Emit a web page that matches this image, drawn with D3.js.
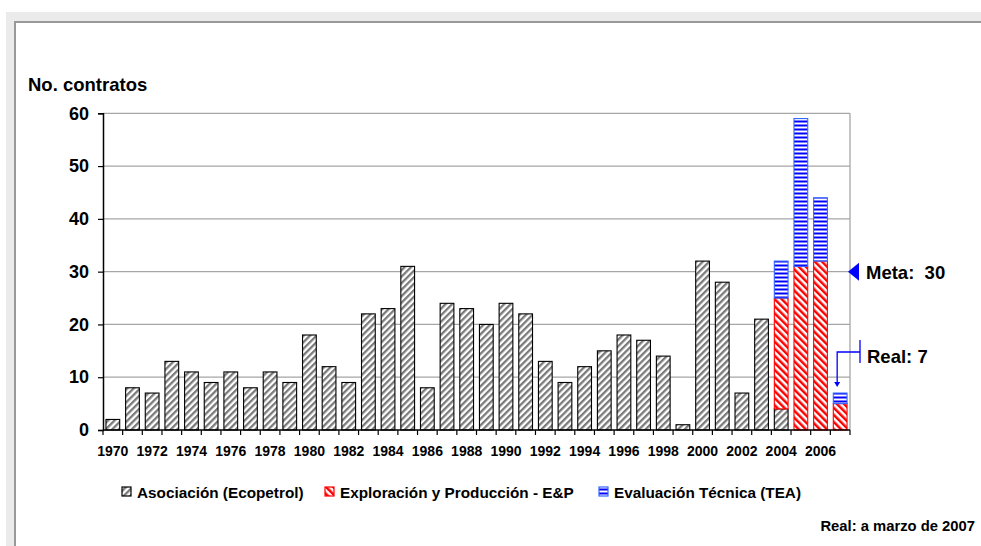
<!DOCTYPE html>
<html>
<head>
<meta charset="utf-8">
<script src="https://cdn.jsdelivr.net/npm/d3@7/dist/d3.min.js"></script>
<style>
  html, body { margin: 0; padding: 0; background: #fff; }
  svg { display: block; font-family: Arial, "Liberation Sans", sans-serif; }
</style>
</head>
<body>
<svg id="chart" width="981" height="546"></svg>
<script>
// ---------- data ----------
const years = d3.range(1970, 2008);
const asociacion = [2, 8, 7, 13, 11, 9, 11, 8, 11, 9, 18, 12, 9, 22, 23, 31, 8, 24, 23, 20,
                    24, 22, 13, 9, 12, 15, 18, 17, 14, 1, 32, 28, 7, 21, 4, 0, 0, 0];
const exploracion = [0,0,0,0,0,0,0,0,0,0,0,0,0,0,0,0,0,0,0,0,
                     0,0,0,0,0,0,0,0,0,0,0,0,0,0,21,31,32,5];
const evaluacion = [0,0,0,0,0,0,0,0,0,0,0,0,0,0,0,0,0,0,0,0,
                    0,0,0,0,0,0,0,0,0,0,0,0,0,0,7,28,12,2];
const seriesNames = ["Asociación (Ecopetrol)", "Exploración y Producción - E&P", "Evaluación Técnica (TEA)"];
const yTicks = [0, 10, 20, 30, 40, 50, 60];
const xTickLabels = years.filter(y => y % 2 === 0 && y <= 2006);
const metaValue = 30;
const realValue = 7;
const realYear = 2007;

// ---------- setup ----------
const svg = d3.select("#chart");
const defs = svg.append("defs");

// patterns
const pA = defs.append("pattern").attr("id", "pAsoc").attr("patternUnits", "userSpaceOnUse")
  .attr("width", 4.6).attr("height", 10).attr("patternTransform", "rotate(45)");
pA.append("rect").attr("width", 4.6).attr("height", 10).attr("fill", "#fff");
pA.append("rect").attr("width", 2.3).attr("height", 10).attr("fill", "#7a7a7a");

const pE = defs.append("pattern").attr("id", "pEP").attr("patternUnits", "userSpaceOnUse")
  .attr("width", 5).attr("height", 10).attr("patternTransform", "rotate(-45)");
pE.append("rect").attr("width", 5).attr("height", 10).attr("fill", "#fff");
pE.append("rect").attr("width", 2.5).attr("height", 10).attr("fill", "#ff0000");

const pT = defs.append("pattern").attr("id", "pTEA").attr("patternUnits", "userSpaceOnUse")
  .attr("width", 10).attr("height", 4).attr("y", 0.5);
pT.append("rect").attr("width", 10).attr("height", 4).attr("fill", "#fff");
pT.append("rect").attr("width", 10).attr("height", 2).attr("fill", "#0000ff");

const fills = ["url(#pAsoc)", "url(#pEP)", "url(#pTEA)"];
const strokes = ["#000000", "#ff0000", "#3366ff"];

// frame
svg.append("rect").attr("x", 6).attr("y", 12).attr("width", 990).attr("height", 560).attr("fill", "#ebebeb");
svg.append("rect").attr("x", 15).attr("y", 22).attr("width", 990).attr("height", 560)
  .attr("fill", "#fff").attr("stroke", "#999").attr("stroke-width", 2);

// scales
const plotL = 103, plotR = 850, plotT = 113.3, plotB = 430;
const x = d3.scaleBand().domain(years).range([plotL, plotR]).paddingInner(0.25).paddingOuter(0.125);
const y = d3.scaleLinear().domain([0, 60]).range([plotB, plotT]);

// gridlines
svg.append("g").selectAll("line").data(yTicks.filter(d => d > 0)).join("line")
  .attr("x1", plotL).attr("x2", plotR)
  .attr("y1", d => y(d)).attr("y2", d => y(d))
  .attr("stroke", "#a6a6a6").attr("stroke-width", 1.3);
// right border
svg.append("line").attr("x1", plotR).attr("x2", plotR).attr("y1", plotT).attr("y2", plotB)
  .attr("stroke", "#a6a6a6").attr("stroke-width", 1.3);

// stacked data
const stackData = years.map((yr, i) => ({ year: yr, a: asociacion[i], e: exploracion[i], t: evaluacion[i] }));
const stack = d3.stack().keys(["a", "e", "t"])(stackData);

const barsG = svg.append("g");
stack.forEach((layer, li) => {
  barsG.append("g").selectAll("rect").data(layer.filter(d => d[1] - d[0] > 0)).join("rect")
    .attr("x", d => x(d.data.year) + 0.5)
    .attr("width", x.bandwidth() - 1)
    .attr("y", d => y(d[1]))
    .attr("height", d => y(d[0]) - y(d[1]))
    .attr("fill", fills[li])
    .attr("stroke", strokes[li])
    .attr("stroke-width", 1.1);
});

// y axis
const yAxis = d3.axisLeft(y).tickValues(yTicks).tickSize(5).tickPadding(9).tickFormat(d3.format("d"));
const gy = svg.append("g").attr("transform", `translate(${plotL},0)`).call(yAxis);
gy.select(".domain").attr("stroke", "#000").attr("stroke-width", 1.5);
gy.selectAll(".tick line").attr("stroke", "#000").attr("stroke-width", 1.2);
gy.selectAll("text").attr("font-size", "18px").attr("font-weight", "bold").attr("fill", "#000")
  .attr("font-family", "Arial, 'Liberation Sans', sans-serif");

// x axis
const xAxis = d3.axisBottom(x).tickValues(xTickLabels).tickSize(0).tickPadding(16);
const gx = svg.append("g").attr("transform", `translate(0,${plotB})`).call(xAxis);
gx.select(".domain").attr("stroke", "#000").attr("stroke-width", 1.5).attr("d", `M${plotL},0H${plotR}`);
gx.selectAll("text").attr("font-size", "14px").attr("font-weight", "bold").attr("fill", "#000")
  .attr("font-family", "Arial, 'Liberation Sans', sans-serif");
// boundary ticks
const halfGap = (x.step() - x.bandwidth()) / 2;
const bounds = years.map(yr => x(yr) - halfGap).concat([plotR]);
gx.append("g").selectAll("line").data(bounds).join("line")
  .attr("x1", d => d).attr("x2", d => d).attr("y1", 0).attr("y2", 5)
  .attr("stroke", "#000").attr("stroke-width", 1.2);

// y title
svg.append("text").attr("x", 28).attr("y", 91).text("No. contratos")
  .attr("font-size", "18.5px").attr("font-weight", "bold").attr("fill", "#000");

// Meta annotation
const my = y(metaValue);
svg.append("path").attr("d", `M${plotR - 2},${my} L${plotR + 9},${my - 9} L${plotR + 9},${my + 9} Z`)
  .attr("fill", "#0000ff");
svg.append("text").attr("x", 866).attr("y", my + 7).text("Meta:  30")
  .attr("style", "white-space:pre").attr("font-size", "18.5px").attr("font-weight", "bold").attr("fill", "#000");

// Real annotation
const rx = x(realYear) + x.bandwidth() / 2 - 3;
const ry = y(realValue);
const bx = 860, by = 352;
svg.append("line").attr("x1", bx).attr("x2", bx).attr("y1", by - 12).attr("y2", by + 11)
  .attr("stroke", "#0000ff").attr("stroke-width", 1.3);
svg.append("path").attr("d", `M${bx},${by} H${rx} V${ry - 10}`)
  .attr("fill", "none").attr("stroke", "#0000ff").attr("stroke-width", 1.3);
svg.append("path").attr("d", `M${rx - 3},${ry - 11} L${rx + 3},${ry - 11} L${rx},${ry - 6} Z`)
  .attr("fill", "#0000ff");
svg.append("text").attr("x", 867).attr("y", 363).text("Real: " + realValue)
  .attr("font-size", "18.5px").attr("font-weight", "bold").attr("fill", "#000");

// legend
const legendX = [122, 325, 599];
const lg = svg.append("g");
seriesNames.forEach((name, i) => {
  lg.append("rect").attr("x", legendX[i]).attr("y", 487).attr("width", 9).attr("height", 9)
    .attr("fill", fills[i]).attr("stroke", strokes[i]).attr("stroke-width", 1.2);
  lg.append("text").attr("x", legendX[i] + 15).attr("y", 497.5).text(name)
    .attr("font-size", "15.3px").attr("font-weight", "bold").attr("fill", "#000");
});

// footnote
svg.append("text").attr("x", 975).attr("y", 531).attr("text-anchor", "end").text("Real: a marzo de 2007")
  .attr("font-size", "14.8px").attr("font-weight", "bold").attr("fill", "#000");
</script>
</body>
</html>
